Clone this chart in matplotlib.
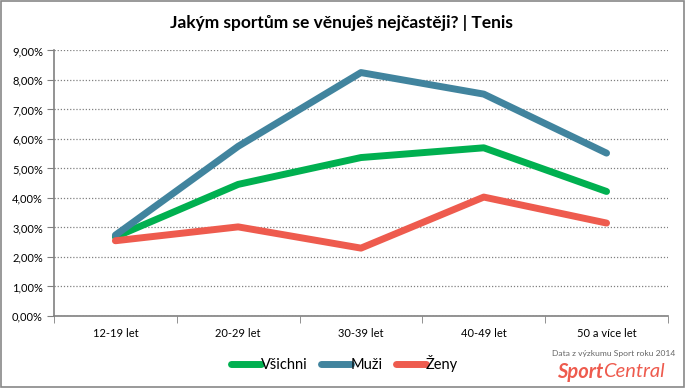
import numpy as np
import matplotlib.pyplot as plt
from matplotlib.patches import Rectangle
from matplotlib.ticker import FuncFormatter, FixedLocator

plt.rcParams['font.family'] = ['Lato', 'DejaVu Sans']

# data
kategorie = ['12-19 let', '20-29 let', '30-39 let', '40-49 let', '50 a více let']
vsichni = [2.68, 4.46, 5.37, 5.70, 4.22]
muzi = [2.74, 5.75, 8.25, 7.52, 5.52]
zeny = [2.55, 3.02, 2.30, 4.03, 3.15]

barvy = {'Všichni': '#00B050', 'Muži': '#41849E', 'Ženy': '#EE5B4E'}

fig = plt.figure(figsize=(6.86, 3.88), dpi=100)
ax = fig.add_axes([0.0787, 0.1856, 0.895, 0.6844])

x = np.arange(len(kategorie))
for nazev, hodnoty in [('Všichni', vsichni), ('Muži', muzi), ('Ženy', zeny)]:
    ax.plot(x, hodnoty, color=barvy[nazev], lw=5, solid_capstyle='round',
            solid_joinstyle='round', label=nazev)

ax.set_xlim(-0.5, len(kategorie) - 0.5)
ax.set_ylim(0, 9)
ax.set_yticks(np.arange(0, 10, 1))
ax.yaxis.set_major_formatter(FuncFormatter(lambda v, p: f'{v:.2f}%'.replace('.', ',')))
ax.set_xticks(x)
ax.set_xticklabels(kategorie)
ax.xaxis.set_minor_locator(FixedLocator(np.arange(-0.5, len(kategorie), 1)))
ax.tick_params(axis='x', which='major', length=0, pad=9, labelsize=8)
ax.tick_params(axis='x', which='minor', length=5, color='#808080', direction='out')
ax.tick_params(axis='y', length=5, color='#808080', labelsize=8, pad=3)

ax.grid(axis='y', linestyle=(0, (1, 1.5)), color='#808080', lw=0.9)
ax.set_axisbelow(True)
for s in ['top', 'right']:
    ax.spines[s].set_visible(False)
for s in ['left', 'bottom']:
    ax.spines[s].set_color('#808080')
    ax.spines[s].set_linewidth(1.2)

fig.text(0.497, 0.94, 'Jakým sportům se věnuješ nejčastěji? | Tenis', ha='center', va='center',
         fontsize=12.5, fontweight='bold')

fig.legend(loc='center', bbox_to_anchor=(0.502, 0.062), ncol=3, frameon=False,
           fontsize=10.5, handlelength=2.05, handletextpad=0.0, columnspacing=0.9)

fig.text(0.984, 0.09, 'Data z výzkumu Sport roku 2014', ha='right', va='center',
         fontsize=6.1, color='#666666')
t1 = fig.text(0.812, 0.042, 'Sport', ha='left', va='center', fontsize=14.5,
              fontweight='bold', style='italic', color='#EE5B4E')
fig.canvas.draw()
bb = t1.get_window_extent()
fig.text(bb.x1 / fig.bbox.width, 0.042, 'Central', ha='left', va='center', fontsize=14.5,
         style='italic', color='#EE5B4E')

fig.patches.append(Rectangle((0.002, 0.003), 0.995, 0.994, transform=fig.transFigure,
                             fill=False, edgecolor='#888888', lw=1.2))

fig.savefig('out.png', dpi=100)
